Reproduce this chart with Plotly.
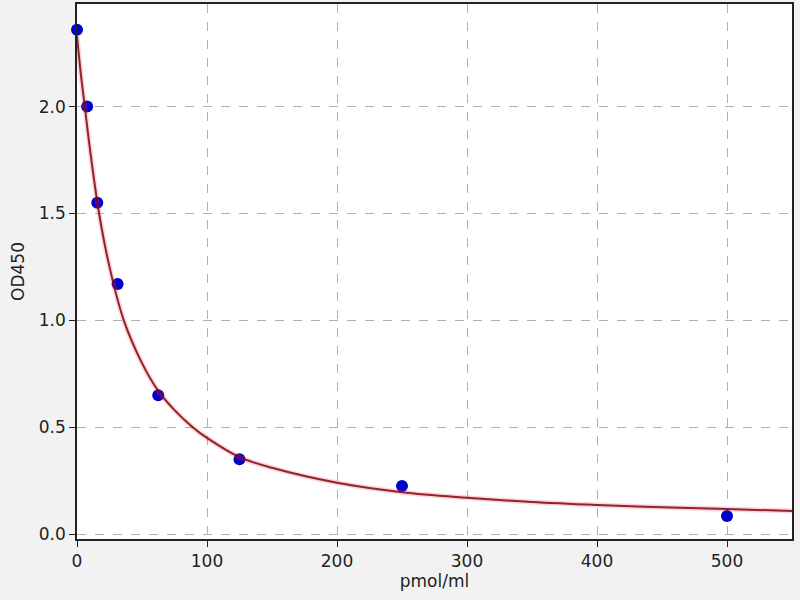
import plotly.graph_objects as go

# standard points
conc = [0, 7.8, 15.6, 31.25, 62.5, 125, 250, 500]
od = [2.36, 2.00, 1.55, 1.17, 0.65, 0.35, 0.225, 0.085]

# fitted curve
curve_x = [0, 3, 6, 10, 17, 25, 36, 50, 62.5, 75, 89, 100, 125, 150, 200,
           250, 300, 350, 400, 450, 500, 550]
curve_y = [2.33, 2.15, 2.00, 1.80, 1.50, 1.25, 1.00, 0.80, 0.67, 0.58, 0.50,
           0.45, 0.36, 0.31, 0.24, 0.196, 0.17, 0.15, 0.136, 0.125, 0.117, 0.108]

x_ticks = [0, 100, 200, 300, 400, 500]
y_ticks = [0.0, 0.5, 1.0, 1.5, 2.0]

fig = go.Figure()

fig.add_trace(go.Scatter(
    x=conc, y=od, mode='markers',
    marker=dict(color='#0000cc', size=12, line=dict(width=0)),
    cliponaxis=False, showlegend=False
))

# soft halo under the fit line
fig.add_trace(go.Scatter(
    x=curve_x, y=curve_y, mode='lines',
    line=dict(color='rgba(255,60,60,0.22)', width=5, shape='spline'),
    showlegend=False
))
fig.add_trace(go.Scatter(
    x=curve_x, y=curve_y, mode='lines',
    line=dict(color='rgba(125,5,15,0.85)', width=2, shape='spline'),
    showlegend=False
))

axis_style = dict(
    showline=True, linecolor='#222222', linewidth=1.5, mirror=True,
    ticks='outside', ticklen=6, tickcolor='#222222',
    showgrid=True, gridcolor='#b0b0b0', griddash='dash', gridwidth=1,
    zeroline=False,
    tickfont=dict(family='DejaVu Sans', size=17, color='#222222'),
)

fig.update_xaxes(
    range=[0, 550], tickvals=x_ticks,
    title=dict(text='pmol/ml', standoff=4,
               font=dict(family='DejaVu Sans', size=17, color='#222222')),
    **axis_style
)
fig.update_yaxes(
    range=[-0.023, 2.48], tickvals=y_ticks, tickformat='.1f',
    title=dict(text='OD450', standoff=10,
               font=dict(family='DejaVu Sans', size=17, color='#222222')),
    **axis_style
)

fig.update_layout(
    width=800, height=600,
    margin=dict(l=77, r=8, t=2, b=61),
    paper_bgcolor='#f2f2f2',
    plot_bgcolor='white',
)

fig.write_html("out.html", config={'displayModeBar': False},
               post_script="document.body.style.margin='0';")
